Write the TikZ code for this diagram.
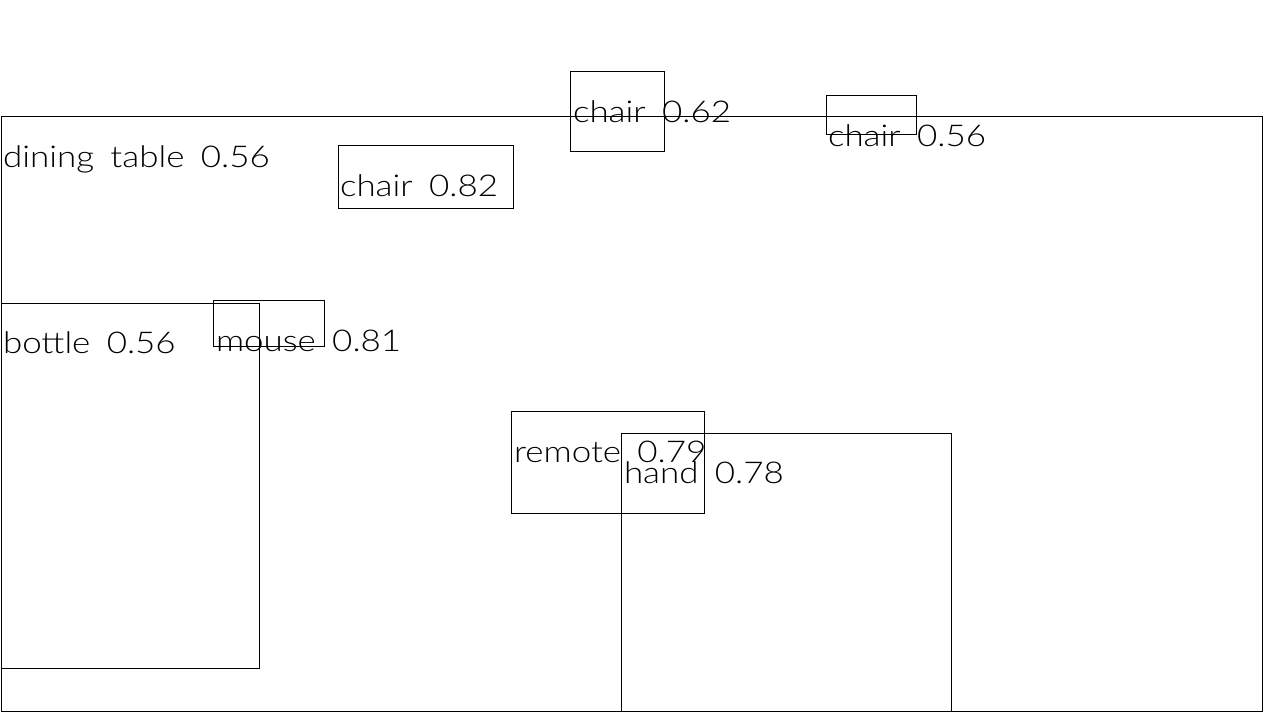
\documentclass[tikz,border=0pt]{standalone}
\usepackage{fontspec}
\setmainfont{Lato Light}
\tikzset{
  bbox/.style={draw=black, line width=1pt},
  lbl/.style={anchor=base west, inner sep=0pt, outer sep=0pt, font={\fontsize{30}{30}\selectfont}, text=black}
}
\newcommand{\wide}[1]{\scalebox{1.165}[1]{\spaceskip=14pt\relax #1}}
\begin{document}
\begin{tikzpicture}[x=1pt,y=-1pt]
\useasboundingbox (0,0) rectangle (1280,720);
\fill[white] (0,0) rectangle (1280,720);
% boxes
\draw[bbox] (1,116) rectangle (1262,711);
\draw[bbox] (338,145) rectangle (513,208);
\draw[bbox] (570,71) rectangle (664,151);
\draw[bbox] (826,95) rectangle (916,134);
\draw[bbox] (1,303) rectangle (259,668);
\draw[bbox] (213,300) rectangle (324,346);
\draw[bbox] (511,411) rectangle (704,513);
\draw[bbox] (621,433) rectangle (951,711);
% labels
\node[lbl] (tdt) at (3,167) {\wide{dining table 0.56}};
\node[lbl] (tc1) at (340,196) {\wide{chair 0.82}};
\node[lbl] (tc2) at (573,122) {\wide{chair 0.62}};
\node[lbl] (tc3) at (828,146) {\wide{chair 0.56}};
\node[lbl] (tbo) at (3,353) {\wide{bottle 0.56}};
\node[lbl] (tmo) at (216,351) {\wide{mouse 0.81}};
\node[lbl] (tre) at (514,462) {\wide{remote 0.79}};
\node[lbl] (tha) at (624,483) {\wide{hand 0.78}};
\end{tikzpicture}
\end{document}
